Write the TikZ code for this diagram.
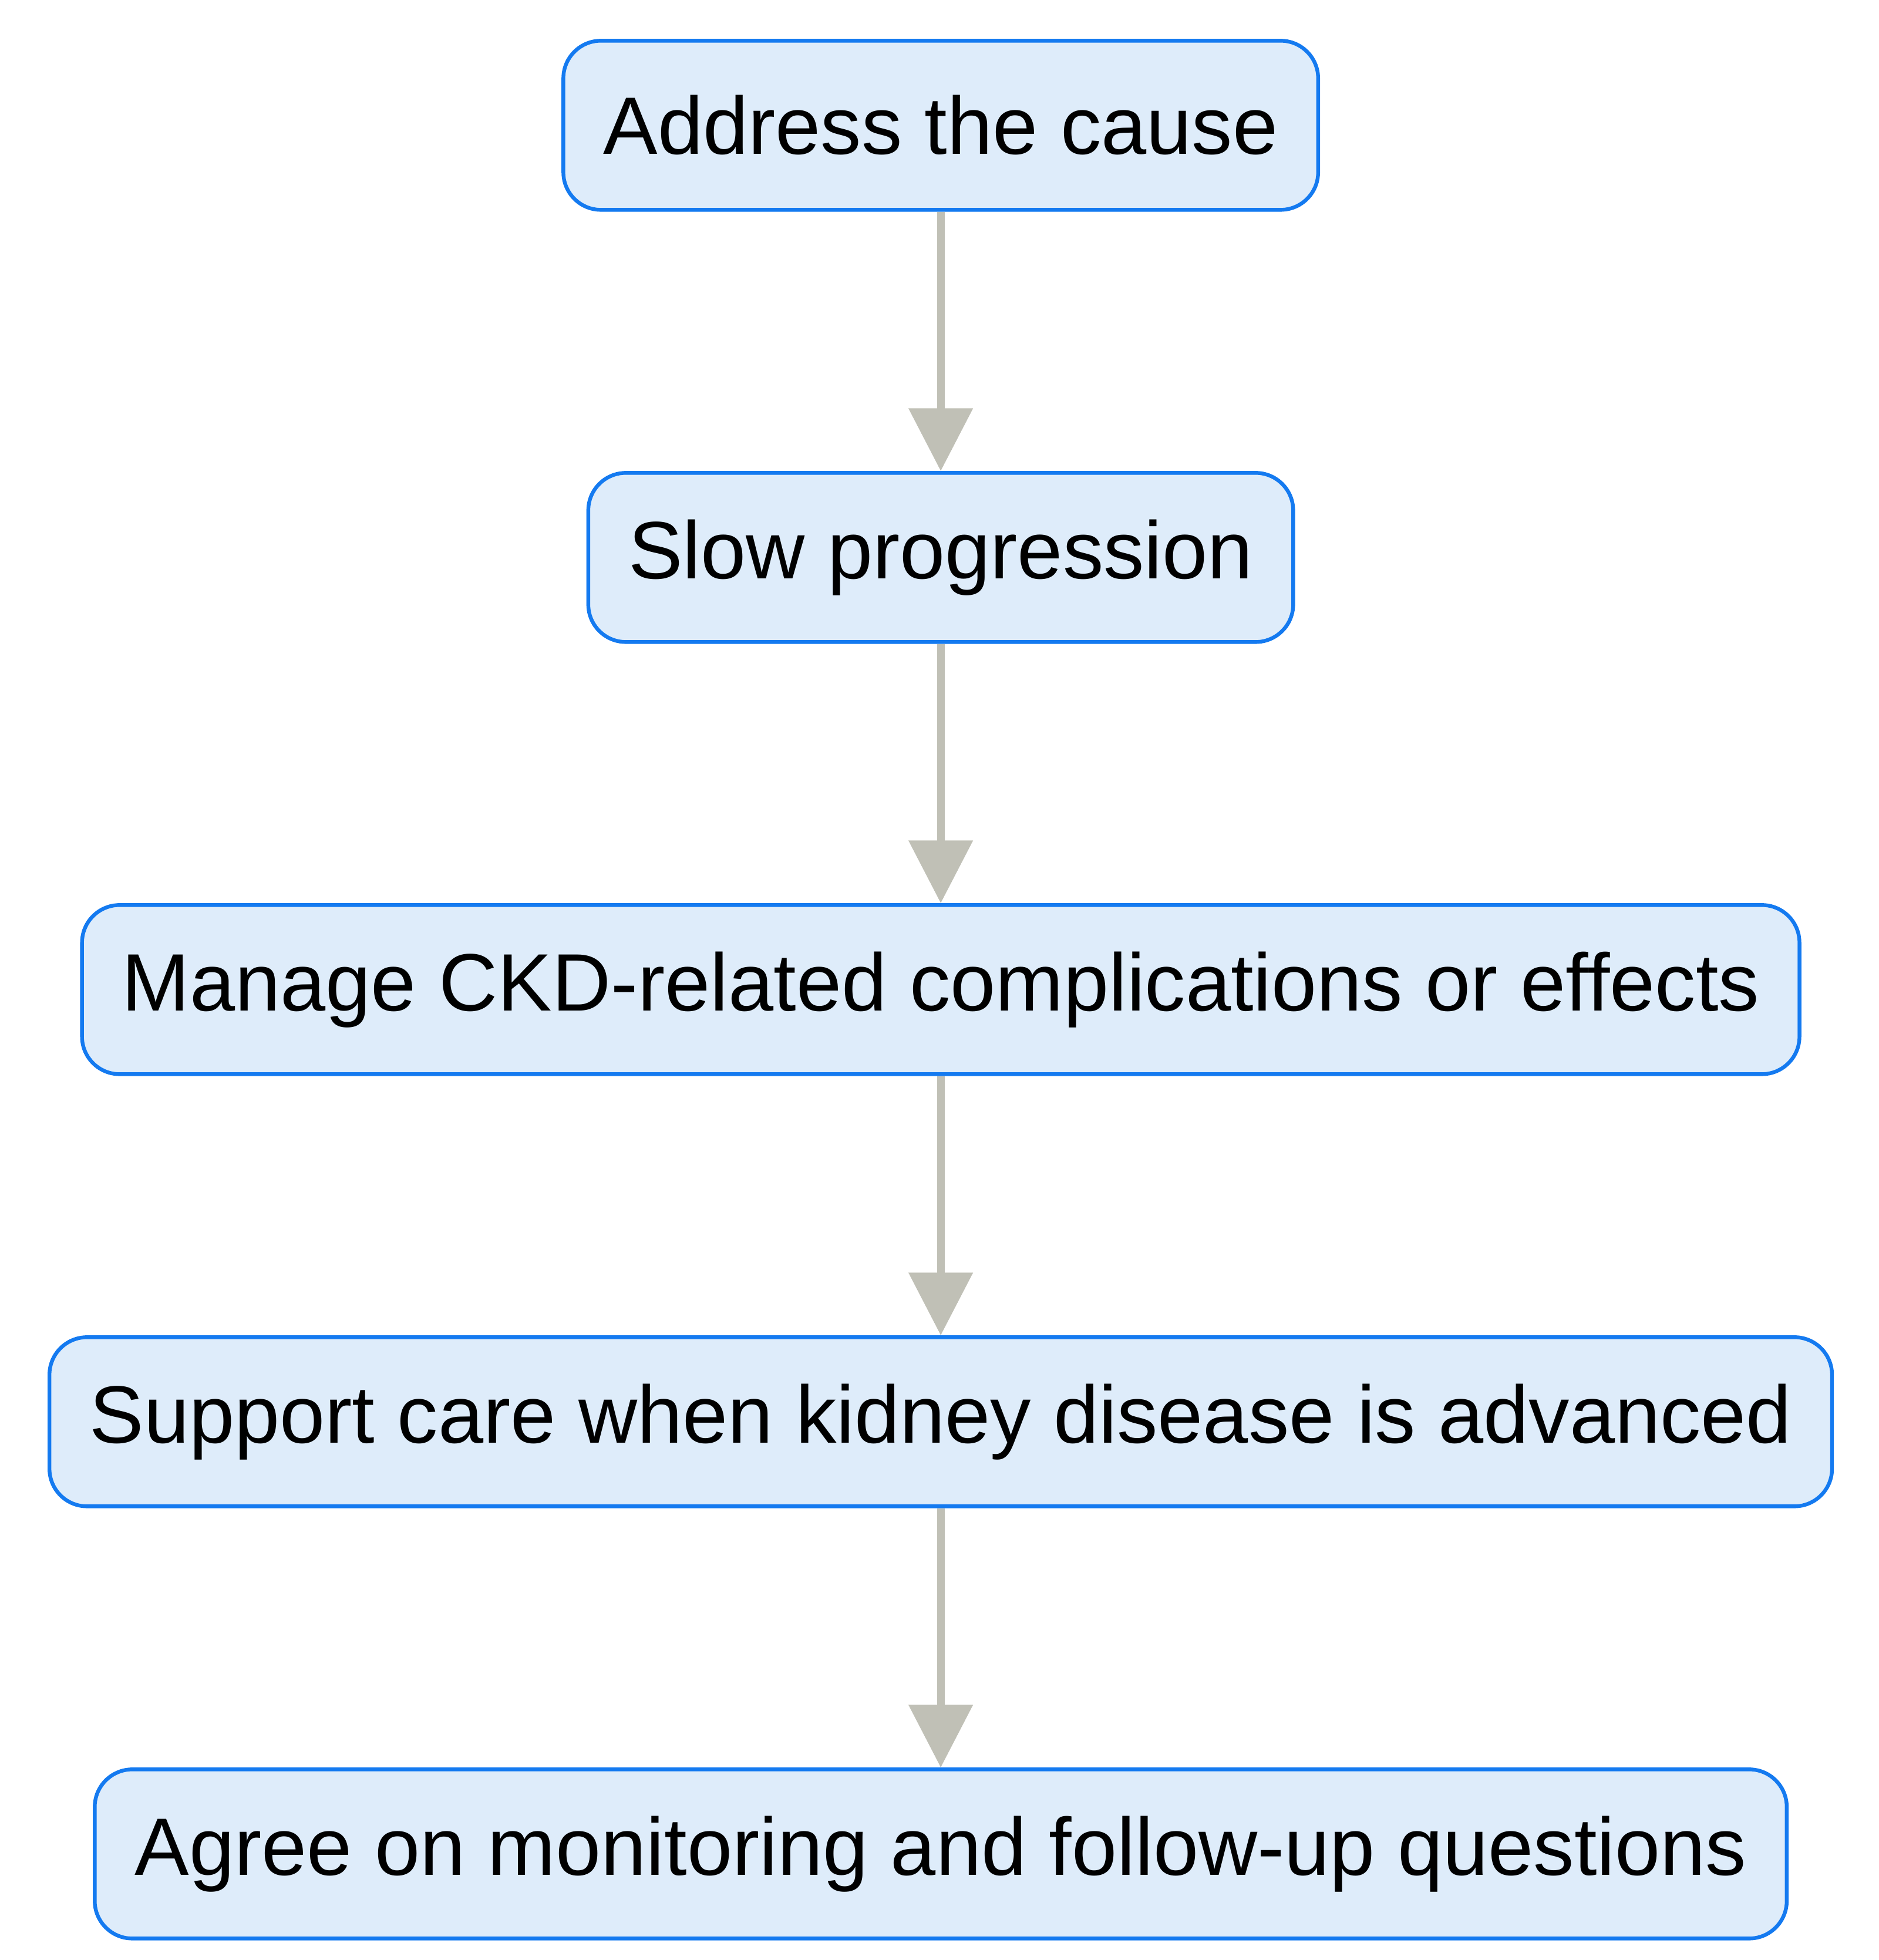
\documentclass[tikz,border=0pt]{standalone}
\usepackage{fontspec}
\setmainfont{Liberation Sans}
\usetikzlibrary{positioning}
\usetikzlibrary{arrows.meta}

\definecolor{boxfill}{RGB}{222,236,250}
\definecolor{boxline}{RGB}{20,122,240}
\definecolor{arrowgray}{RGB}{192,192,182}

\begin{document}
\begin{tikzpicture}[
	stepbox/.style={draw=boxline, fill=boxfill, line width=0.03cm, rounded corners=0.3cm,
		minimum height=1.35cm, inner xsep=0.32cm, font=\fontsize{18.5}{22}\selectfont},
	flow/.style={draw=arrowgray, line width=0.06cm, -{Triangle[width=0.5cm,length=0.5cm]}},
	node distance=2.07cm
]
	\useasboundingbox (0,0) rectangle (15,-15.647);
	\node[stepbox] (cause) at (7.51,-1.0) {Address the cause};
	\node[stepbox, below=of cause] (slow) {Slow progression};
	\node[stepbox, below=of slow] (manage) {Manage CKD-related complications or effects};
	\node[stepbox, below=of manage] (support) {Support care when kidney disease is advanced};
	\node[stepbox, below=of support] (agree) {Agree on monitoring and follow-up questions};
	\foreach \a/\b in {cause/slow,slow/manage,manage/support,support/agree} {
		\draw[flow] (\a) -- (\b);
	}
\end{tikzpicture}
\end{document}
